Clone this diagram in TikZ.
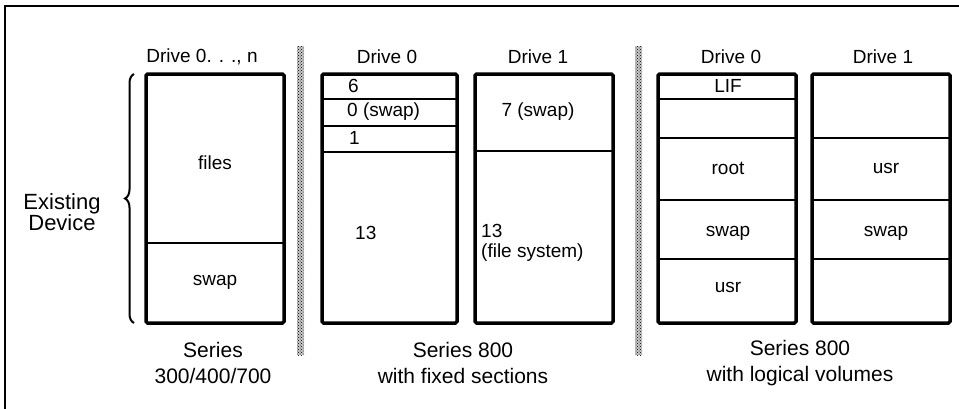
\documentclass[tikz,border=0pt]{standalone}
\usepackage{fontspec}
\setmainfont{Liberation Sans}
\usetikzlibrary{positioning, patterns, decorations.pathreplacing}

\begin{document}
\begin{tikzpicture}[x=1pt, y=-1pt,
    disk/.style={line width=3.5pt, rounded corners=1.5pt},
    part/.style={line width=2pt},
    lbl/.style={inner sep=0pt, font=\fontsize{19}{20}\selectfont},
    seriescap/.style={inner sep=0pt, align=center, font=\fontsize{21}{26}\selectfont},
    bar/.style={pattern=crosshatch dots, pattern color=black}]
    \useasboundingbox (0,0) rectangle (959,408);

    % 1. Khung ngoai (chi canh tren va canh trai)
    \draw[line width=2.5pt] (5,412) -- (5,6) -- (963,6);

    % 2. Series 300/400/700
    \node[lbl] (hd0) at (202,57) {Drive 0. . ., n};
    \draw[disk] (146,74) rectangle (284,323);
    \draw[part] (146,243) -- (284,243);
    \node[lbl] (files) at (215,163) {files};
    \node[lbl] (swapA) at (215,282) {swap};
    \draw[decorate, decoration={brace, amplitude=9pt}, line width=2pt] (134,323) -- (134,74);
    \node[lbl, align=center, font=\fontsize{22}{20}\selectfont] (exist) at (62,212) {Existing\\Device};
    \node[seriescap] (ser1) at (213,363) {Series\\300/400/700};

    % 3. Vach phan cach cham
    \fill[gray!45] (297,46) rectangle (304,355);
    \fill[bar] (297,46) rectangle (304,355);
    \fill[gray!45] (635,46) rectangle (642,355);
    \fill[bar] (635,46) rectangle (642,355);

    % 4. Series 800 voi cac section co dinh
    \node[lbl] (hd1) at (387,57) {Drive 0};
    \draw[disk] (322,74) rectangle (457,323);
    \draw[part] (322,99) -- (457,99);
    \draw[part] (322,126) -- (457,126);
    \draw[part] (322,152) -- (457,152);
    \node[lbl, anchor=west] (s6) at (348,86) {6};
    \node[lbl, anchor=west] (s0) at (347,112) {0 (swap)};
    \node[lbl, anchor=west] (s1) at (349,138) {1};
    \node[lbl, anchor=west] (s13) at (355,233) {13};

    \node[lbl] (hd2) at (538,57) {Drive 1};
    \draw[disk] (475,74) rectangle (613,323);
    \draw[part] (475,151) -- (613,151);
    \node[lbl] (s7) at (538,112) {7 (swap)};
    \node[lbl, anchor=west, align=left] (fs) at (481,243) {13\\(file system)};
    \node[seriescap] (ser2) at (463,363) {Series 800\\with fixed sections};

    % 5. Series 800 voi logical volumes
    \node[lbl] (hd3) at (731,57) {Drive 0};
    \draw[disk] (658,74) rectangle (796,323);
    \foreach \yy in {99, 138, 200, 259}
        \draw[part] (658,\yy) -- (796,\yy);
    \node[lbl] (lif) at (728,86) {LIF};
    \node[lbl] (root) at (728,168) {root};
    \node[lbl] (swapD) at (728,233) {swap};
    \node[lbl] (usrD) at (728,287) {usr};

    \node[lbl] (hd4) at (883,57) {Drive 1};
    \draw[disk] (812,74) rectangle (950,323);
    \foreach \yy in {138, 200, 259}
        \draw[part] (812,\yy) -- (950,\yy);
    \node[lbl] (usrE) at (886,168) {usr};
    \node[lbl] (swapE) at (886,233) {swap};
    \node[seriescap] (ser3) at (800,363) {Series 800\\with logical volumes};

\end{tikzpicture}
\end{document}
